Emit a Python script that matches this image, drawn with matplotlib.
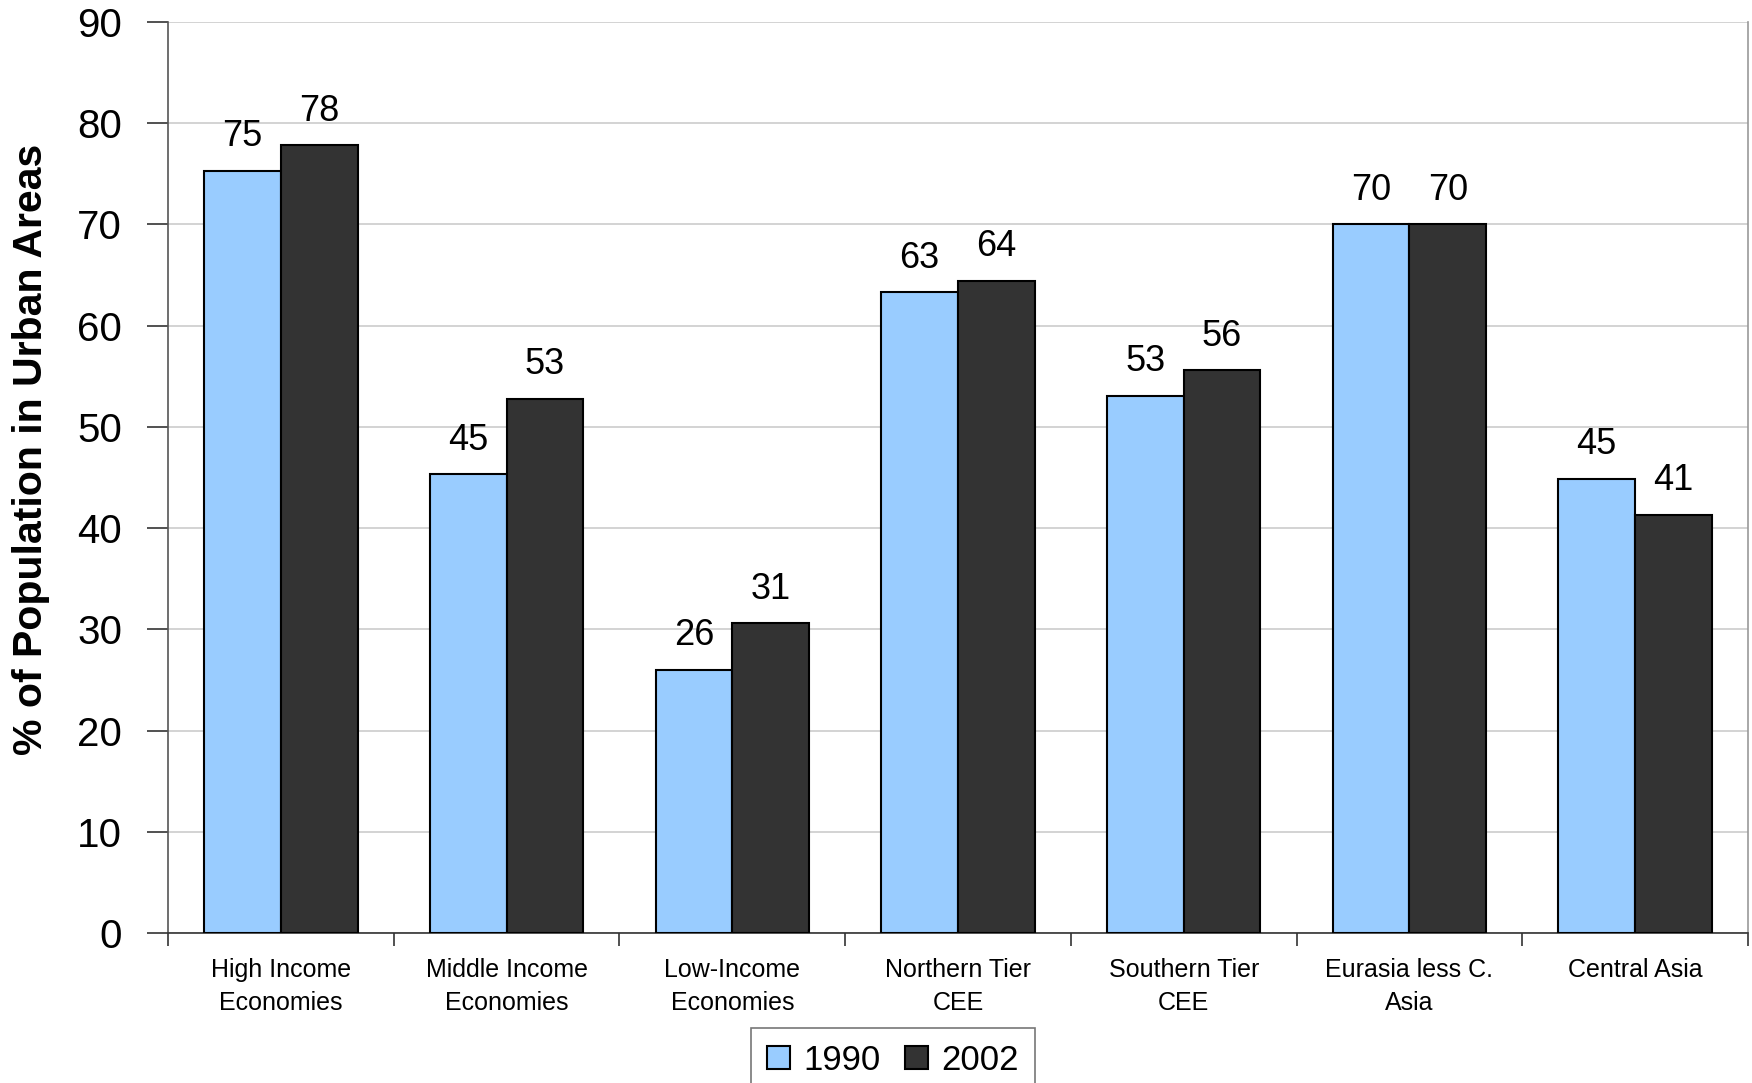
import numpy as np
import matplotlib.pyplot as plt

categories = ['High Income\nEconomies', 'Middle Income\nEconomies', 'Low-Income\nEconomies',
              'Northern Tier\nCEE', 'Southern Tier\nCEE', 'Eurasia less C.\nAsia', 'Central Asia']
vals_1990 = [75.3, 45.3, 26.0, 63.3, 53.1, 70.0, 44.9]
vals_2002 = [77.8, 52.8, 30.6, 64.4, 55.6, 70.0, 41.3]
series_names = ['1990', '2002']

plt.rcParams['font.family'] = ['Liberation Sans', 'DejaVu Sans']

fig = plt.figure(figsize=(17.52, 10.83), dpi=100)
ax = fig.add_axes([0.0959, 0.1385, 0.9018, 0.8412])

x = np.arange(len(categories))
w = 0.34
b1 = ax.bar(x - w/2, vals_1990, w, color='#99CCFF', edgecolor='black', linewidth=1.5,
            label=series_names[0], zorder=3)
b2 = ax.bar(x + w/2, vals_2002, w, color='#333333', edgecolor='black', linewidth=1.5,
            label=series_names[1], zorder=3)
ax.bar_label(b1, fmt='%.0f', padding=12, fontsize=26)
ax.bar_label(b2, fmt='%.0f', padding=12, fontsize=26)

ax.set_xlim(-0.5, len(categories) - 0.5)
ax.set_ylim(0, 90)
ax.set_yticks(np.arange(0, 91, 10))
ax.tick_params(axis='y', labelsize=29, length=15, width=1.2, pad=18, color='#333333')
ax.yaxis.grid(True, color='#cccccc', linewidth=1.2, zorder=0)

ax.set_xticks(x)
ax.set_xticklabels(categories, fontsize=18, linespacing=1.45)
ax.set_xticks(np.arange(-0.5, len(categories), 1), minor=True)
ax.tick_params(axis='x', which='major', length=0, pad=18)
ax.tick_params(axis='x', which='minor', length=9, width=1.2, color='#333333')

ax.set_ylabel('% of Population in Urban Areas', fontsize=29.5, fontweight='bold')
ax.yaxis.set_label_coords(-0.0747, 0.531)

ax.spines['top'].set_visible(False)
ax.spines['right'].set_color('#999999')
ax.spines['left'].set_color('#555555')
ax.spines['bottom'].set_color('#333333')
for s in ax.spines.values():
    s.set_linewidth(1.2)

leg = fig.legend(loc='upper center', bbox_to_anchor=(893/1752, 1 - 1028/1083), ncol=2,
                 fontsize=25, frameon=True, fancybox=False, edgecolor='#555555',
                 handlelength=0.65, handleheight=0.65, handletextpad=0.4, columnspacing=0.7,
                 borderpad=0.45, borderaxespad=0)
leg.get_frame().set_linewidth(1.2)

fig.savefig('out.png', dpi=100)
